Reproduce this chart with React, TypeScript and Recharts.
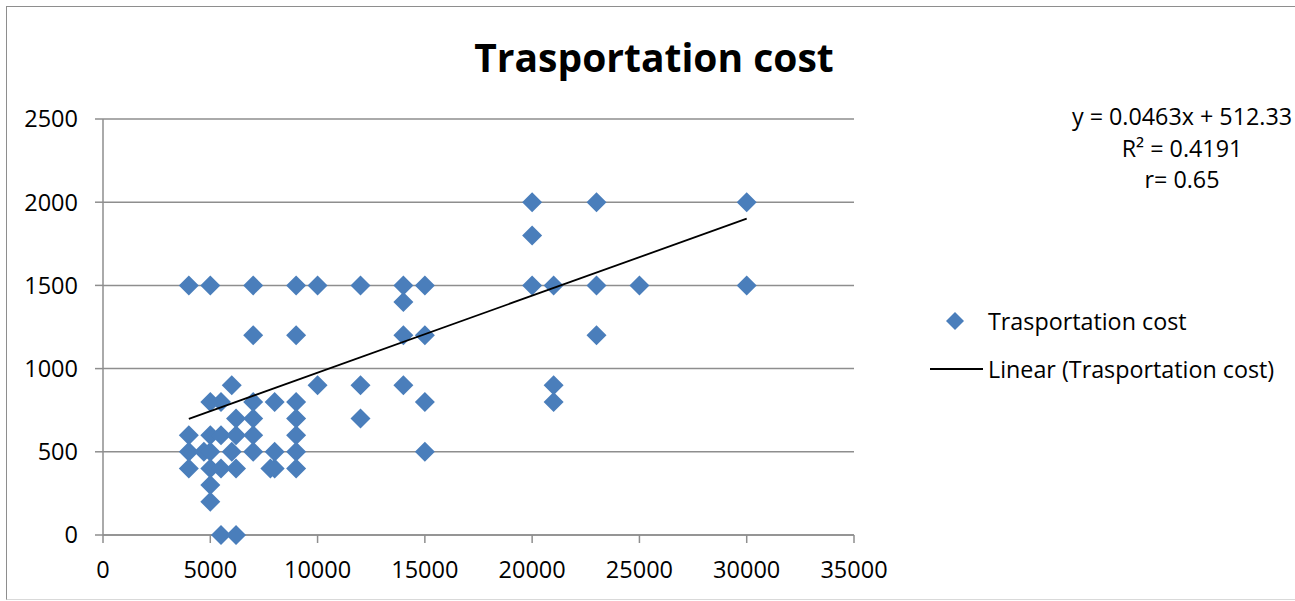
import React from 'react';
import { ScatterChart, Scatter, XAxis, YAxis, CartesianGrid } from 'recharts';

// distance (x) vs cost (y)
const distances = [
  4000, 5000, 7000, 9000, 10000, 12000, 14000, 15000, 20000, 21000, 23000, 25000, 30000,
  20000, 23000, 30000,
  20000,
  14000,
  7000, 9000, 14000, 15000, 23000,
  6000, 10000, 12000, 14000, 21000,
  5000, 5500, 7000, 8000, 9000, 15000, 21000,
  6200, 7000, 9000, 12000,
  4000, 5000, 5500, 6200, 7000, 9000,
  4000, 4700, 5000, 6000, 7000, 8000, 9000, 15000,
  4000, 5000, 5500, 6200, 7800, 8000, 9000,
  5000,
  5000,
  5500, 6200,
];
const costs = [
  1500, 1500, 1500, 1500, 1500, 1500, 1500, 1500, 1500, 1500, 1500, 1500, 1500,
  2000, 2000, 2000,
  1800,
  1400,
  1200, 1200, 1200, 1200, 1200,
  900, 900, 900, 900, 900,
  800, 800, 800, 800, 800, 800, 800,
  700, 700, 700, 700,
  600, 600, 600, 600, 600, 600,
  500, 500, 500, 500, 500, 500, 500, 500,
  400, 400, 400, 400, 400, 400, 400,
  300,
  200,
  0, 0,
];

// linear trend end points (y = 0.0463x + 512.33 over the data range)
const trendX = [4000, 30000];
const trendY = [698, 1901];

const xTicks = [0, 5000, 10000, 15000, 20000, 25000, 30000, 35000];
const yTicks = [0, 500, 1000, 1500, 2000, 2500];

const points = distances.map((x, i) => ({ x, y: costs[i] }));
const trend = trendX.map((x, i) => ({ x, y: trendY[i] }));

const BLUE = '#4a7ebb';
const GRID = '#8e8e8e';
const FONT = '"Open Sans", sans-serif';

const Diamond = (props: any) => {
  const { cx, cy } = props;
  if (cx == null || cy == null) return <g />;
  const r = 10;
  return <path d={`M${cx},${cy - r}L${cx + r},${cy}L${cx},${cy + r}L${cx - r},${cy}Z`} fill={BLUE} />;
};

const NoDot = () => <g />;

export default function App() {
  const tickStyle = { fill: '#000', fontSize: 23.5, fontFamily: FONT };
  return (
    <div style={{ position: 'absolute', left: 0, top: 0, width: 1295, height: 601, background: '#fff', fontFamily: FONT }}>
      <div
        style={{
          position: 'absolute', left: 6, top: 6, width: 1300, height: 592,
          borderLeft: '1.5px solid #8e8e8e', borderTop: '1.5px solid #8e8e8e', borderBottom: '1.5px solid #d9d9d9',
        }}
      />
      <div style={{ position: 'absolute', left: 454, width: 400, top: 32, textAlign: 'center', fontSize: 39, fontWeight: 700, lineHeight: '50px' }}>
        Trasportation cost
      </div>
      <div style={{ position: 'absolute', left: 1032, width: 300, top: 101, textAlign: 'center', fontSize: 23.3, lineHeight: '31.5px' }}>
        <div>y = 0.0463x + 512.33</div>
        <div>R² = 0.4191</div>
        <div>r= 0.65</div>
      </div>
      <div style={{ position: 'absolute', left: 925, top: 304, fontSize: 23.3, lineHeight: '34px' }}>
        <div style={{ display: 'flex', alignItems: 'center' }}>
          <svg width={63} height={34}>
            <path d="M30,8L39,17L30,26L21,17Z" fill={BLUE} />
          </svg>
          <span>Trasportation cost</span>
        </div>
        <div style={{ display: 'flex', alignItems: 'center', marginTop: 14 }}>
          <svg width={63} height={34}>
            <line x1={5} y1={17} x2={58} y2={17} stroke="#000" strokeWidth={1.8} />
          </svg>
          <span>Linear (Trasportation cost)</span>
        </div>
      </div>
      <div style={{ position: 'absolute', left: 0, top: 0 }}>
        <ScatterChart width={1295} height={601} margin={{ top: 119, right: 441, bottom: 26, left: 23 }}>
          <CartesianGrid horizontal vertical={false} stroke={GRID} strokeWidth={1.5} />
          <XAxis
            type="number"
            dataKey="x"
            domain={[0, 35000]}
            ticks={xTicks}
            interval={0}
            height={40}
            tickSize={8}
            tickMargin={18}
            stroke={GRID}
            strokeWidth={1.5}
            tick={tickStyle}
          />
          <YAxis
            type="number"
            dataKey="y"
            domain={[0, 2500]}
            ticks={yTicks}
            interval={0}
            width={80}
            tickSize={8}
            tickMargin={17}
            stroke={GRID}
            strokeWidth={1.5}
            tick={tickStyle}
          />
          <Scatter data={points} shape={Diamond} isAnimationActive={false} />
          <Scatter
            data={trend}
            line={{ stroke: '#000', strokeWidth: 1.8 }}
            lineType="joint"
            shape={NoDot}
            isAnimationActive={false}
          />
        </ScatterChart>
      </div>
    </div>
  );
}
